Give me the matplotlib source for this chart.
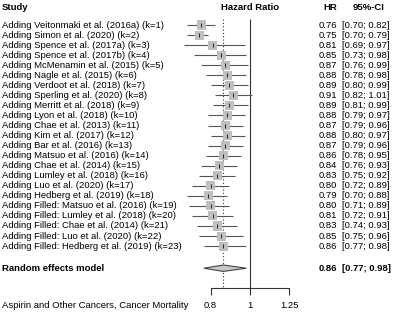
import numpy as np
import matplotlib
matplotlib.use("Agg")
import matplotlib.pyplot as plt
from matplotlib.patches import Polygon
from matplotlib.transforms import blended_transform_factory

plt.rcParams['font.family'] = ['Liberation Sans', 'DejaVu Sans']

studies = [
    "Adding Veitonmaki et al. (2016a) (k=1)",
    "Adding Simon et al. (2020) (k=2)",
    "Adding Spence et al. (2017a) (k=3)",
    "Adding Spence et al. (2017b) (k=4)",
    "Adding McMenamin et al. (2015) (k=5)",
    "Adding Nagle et al. (2015) (k=6)",
    "Adding Verdoot et al. (2018) (k=7)",
    "Adding Sperling et al. (2020) (k=8)",
    "Adding Merritt et al. (2018) (k=9)",
    "Adding Lyon et al. (2018) (k=10)",
    "Adding Chae et al. (2013) (k=11)",
    "Adding Kim et al. (2017) (k=12)",
    "Adding Bar et al. (2016) (k=13)",
    "Adding Matsuo et al. (2016) (k=14)",
    "Adding Chae et al. (2014) (k=15)",
    "Adding Lumley et al. (2018) (k=16)",
    "Adding Luo et al. (2020) (k=17)",
    "Adding Hedberg et al. (2019) (k=18)",
    "Adding Filled: Matsuo et al. (2016) (k=19)",
    "Adding Filled: Lumley et al. (2018) (k=20)",
    "Adding Filled: Chae et al. (2014) (k=21)",
    "Adding Filled: Luo et al. (2020) (k=22)",
    "Adding Filled: Hedberg et al. (2019) (k=23)",
]
hr    = [0.76, 0.75, 0.81, 0.85, 0.87, 0.88, 0.89, 0.91, 0.89, 0.88, 0.87, 0.88,
         0.87, 0.86, 0.84, 0.83, 0.80, 0.79, 0.80, 0.81, 0.83, 0.85, 0.86]
lower = [0.70, 0.70, 0.69, 0.73, 0.76, 0.78, 0.80, 0.82, 0.81, 0.79, 0.79, 0.80,
         0.79, 0.78, 0.76, 0.75, 0.72, 0.70, 0.71, 0.72, 0.74, 0.75, 0.77]
upper = [0.82, 0.79, 0.97, 0.98, 0.99, 0.98, 0.99, 1.01, 0.99, 0.97, 0.96, 0.97,
         0.96, 0.95, 0.93, 0.92, 0.89, 0.88, 0.89, 0.91, 0.93, 0.96, 0.98]
summary_label = "Random effects model"
summary = (0.86, 0.77, 0.98)
xticks = [0.8, 1, 1.25]
xticklabels = ["0.8", "1", "1.25"]
footer = "Aspirin and Other Cancers, Cancer Mortality"

W, H = 393, 326
fig = plt.figure(figsize=(W / 100, H / 100), dpi=100)

ax_left_px, ax_right_px = 160, 300
ax_top_px, ax_bot_px = 0, 288
ax = fig.add_axes([ax_left_px / W, 1 - ax_bot_px / H,
                   (ax_right_px - ax_left_px) / W, (ax_bot_px - ax_top_px) / H])
ax.set_xscale('log')
pxlog = 177.0
x1px = 250.0
ax.set_xlim(np.exp((ax_left_px - x1px) / pxlog), np.exp((ax_right_px - x1px) / pxlog))
row0px, rowh = 25.0, 10.05
ytop = 1 - (row0px - ax_top_px) / rowh
ybot = 1 + (ax_bot_px - row0px) / rowh
ax.set_ylim(ybot, ytop)

n = len(studies)
ys = np.arange(1, n + 1)
ysum = n + 2.2

ax.vlines(1.0, 0.45, ybot, color='#333333', lw=0.8, zorder=1)
ax.vlines(summary[0], 0.45, ybot, color='#333333', lw=0.8, linestyles=(0, (1, 2)), zorder=1)

ax.hlines(ys, lower, upper, color='#555555', lw=0.8, zorder=2)
ax.scatter(hr, ys, marker='s', s=42, color='#bfbfbf', edgecolors='none', zorder=3)
ax.scatter(hr, ys, marker='|', s=10, color='#222222', linewidths=0.7, zorder=4)

est, lo, hi = summary
dh = 0.32
ax.add_patch(Polygon([[lo, ysum], [est, ysum - dh], [hi, ysum], [est, ysum + dh]],
                     closed=True, facecolor='#c8c8c8', edgecolor='#444444', lw=0.8, zorder=3))

for s in ['top', 'right', 'left']:
    ax.spines[s].set_visible(False)
ax.spines['bottom'].set_bounds(0.8, 1.25)
ax.spines['bottom'].set_color('#333333')
ax.spines['bottom'].set_linewidth(0.8)
ax.set_yticks([])
ax.set_xticks(xticks)
ax.set_xticklabels(xticklabels)
ax.xaxis.set_minor_locator(matplotlib.ticker.NullLocator())
ax.tick_params(axis='x', length=5, width=0.8, color='#333333', labelsize=6.8, pad=4)
ax.patch.set_alpha(0)

fs = 6.8
tr_l = blended_transform_factory(fig.transFigure, ax.transData)
xl = 2 / W
xhr = 337 / W
xci = 342 / W
ax.text(xl, -0.7, "Study", transform=tr_l, ha='left', va='center', fontsize=fs, fontweight='bold')
ax.text(1.0, -0.7, "Hazard Ratio", ha='center', va='center', fontsize=fs, fontweight='bold')
ax.text(xhr, -0.7, "HR", transform=tr_l, ha='right', va='center', fontsize=fs, fontweight='bold')
ax.text(xci + 11 / W, -0.7, "95%-CI", transform=tr_l, ha='left', va='center', fontsize=fs, fontweight='bold')

for y, lab, h, l, u in zip(ys, studies, hr, lower, upper):
    ax.text(xl, y, lab, transform=tr_l, ha='left', va='center', fontsize=fs)
    ax.text(xhr, y, f"{h:.2f}", transform=tr_l, ha='right', va='center', fontsize=fs)
    ax.text(xci, y, f"[{l:.2f}; {u:.2f}]", transform=tr_l, ha='left', va='center', fontsize=fs)

ax.text(xl, ysum, summary_label, transform=tr_l, ha='left', va='center', fontsize=fs, fontweight='bold')
ax.text(xhr, ysum, f"{est:.2f}", transform=tr_l, ha='right', va='center', fontsize=fs, fontweight='bold')
ax.text(xci, ysum, f"[{lo:.2f}; {hi:.2f}]", transform=tr_l, ha='left', va='center', fontsize=fs, fontweight='bold')

fig.text(xl, 1 - 305 / H, footer, ha='left', va='center', fontsize=fs)

fig.savefig("out.png", dpi=100)
